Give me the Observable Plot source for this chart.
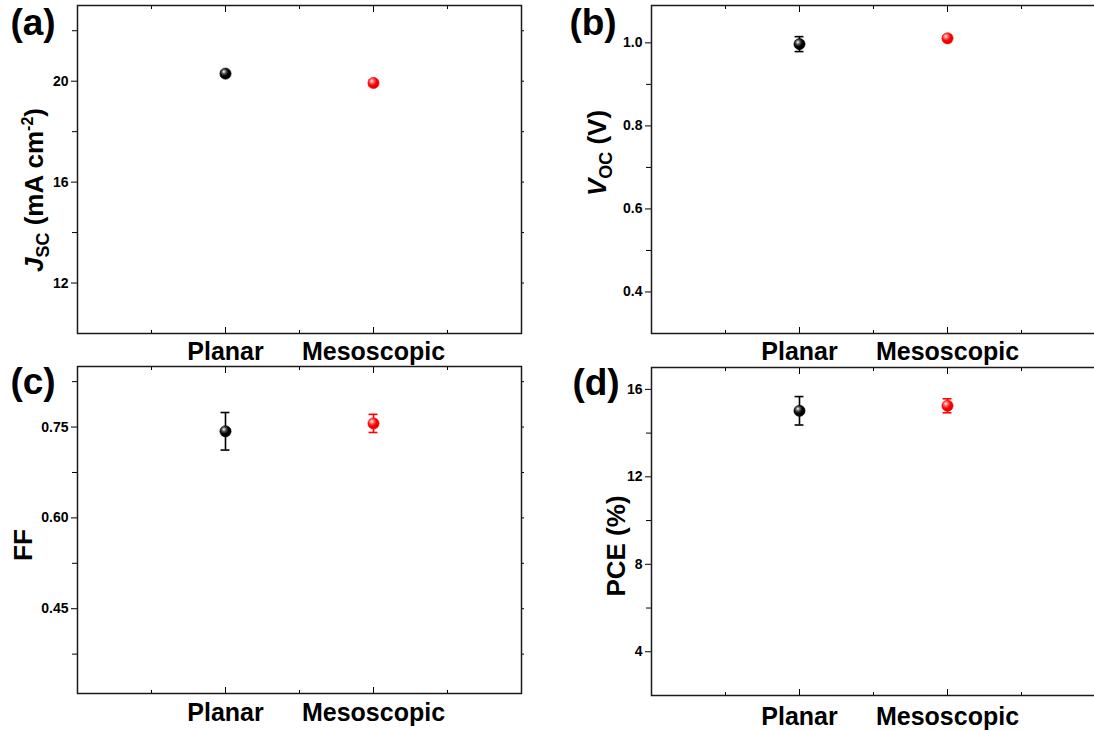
<!DOCTYPE html>
<html><head><meta charset="utf-8">
<script src="https://cdn.jsdelivr.net/npm/d3@7"></script>
<script src="https://cdn.jsdelivr.net/npm/@observablehq/plot@0.6"></script>
<style>
html,body{margin:0;padding:0;background:#fff;overflow:hidden;}
#chart{position:relative;width:1094px;height:731px;overflow:hidden;background:#fff;}
#chart svg{position:absolute;overflow:visible;}
</style></head><body><div id="chart"></div>
<script>
// ---- data ----
const categories = ["Planar", "Mesoscopic"];
const categoryPos = [1, 2];
const minorXTicks = [0.5, 1.5, 2.5];
const seriesColors = ["#000000", "#ff0000"];

const jscMean = [20.30, 19.93];
const jscErr  = [0.10, 0.12];
const vocMean = [0.997, 1.011];
const vocErr  = [0.018, 0.006];
const ffMean  = [0.743, 0.756];
const ffErr   = [0.031, 0.015];
const pceMean = [15.02, 15.25];
const pceErr  = [0.65, 0.32];

const jscTicks = [12, 16, 20];      const jscMinor = [14, 18, 22];
const vocTicks = [0.4, 0.6, 0.8, 1.0]; const vocMinor = [0.5, 0.7, 0.9];
const ffTicks  = [0.45, 0.60, 0.75];   const ffMinor  = [0.375, 0.525, 0.675, 0.825];
const pceTicks = [4, 8, 12, 16];       const pceMinor = [6, 10, 14];

// ---- gradients for glossy dots ----
const FONT = "'Liberation Sans', Arial, Helvetica, sans-serif";
const chart = d3.select("#chart");
const gsvg = chart.append("svg").attr("width", 0).attr("height", 0).style("left", "0px").style("top", "0px");
const defs = gsvg.append("defs");
const gradIds = seriesColors.map((c, i) => {
  const id = "gloss" + i;
  const g = defs.append("radialGradient").attr("id", id).attr("cx", "38%").attr("cy", "35%").attr("r", "65%").attr("fx", "35%").attr("fy", "32%");
  g.append("stop").attr("offset", "0%").attr("stop-color", "#ffffff");
  g.append("stop").attr("offset", "30%").attr("stop-color", i === 0 ? "#555" : "#ff6060");
  g.append("stop").attr("offset", "60%").attr("stop-color", c);
  g.append("stop").attr("offset", "100%").attr("stop-color", i === 0 ? "#000" : "#e00000");
  return "url(#" + id + ")";
});

const panels = [
  {mean: jscMean, err: jscErr, domain: [10, 23], major: jscTicks, minor: jscMinor, fmt: d => d.toFixed(0),
   left: 0, top: 0, width: 547, height: 365, margin: [5, 26, 32, 77], catPad: 9,
   letter: "(a)", letterX: 33, letterY: 35,
   label: [["J", "i"], ["SC", "sub"], [" (mA cm", ""], ["-2", "sup"], [")", ""]], labelX: 43, labelY: 190},
  {mean: vocMean, err: vocErr, domain: [0.3, 1.09], major: vocTicks, minor: vocMinor, fmt: d => d.toFixed(1),
   left: 547, top: 0, width: 548, height: 365, margin: [5, 0, 32, 104], catPad: 9,
   letter: "(b)", letterX: 46, letterY: 35,
   label: [["V", "i"], ["OC", "sub"], [" (V)", ""]], labelX: 59, labelY: 153},
  {mean: ffMean, err: ffErr, domain: [0.31, 0.85], major: ffTicks, minor: ffMinor, fmt: d => d.toFixed(2),
   left: 0, top: 365, width: 547, height: 366, margin: [1, 26, 38, 77], catPad: 10,
   letter: "(c)", letterX: 33, letterY: 29,
   label: [["FF", ""]], labelX: 32, labelY: 180},
  {mean: pceMean, err: pceErr, domain: [2, 17], major: pceTicks, minor: pceMinor, fmt: d => d.toFixed(0),
   left: 547, top: 365, width: 548, height: 366, margin: [2, 0, 36, 104], catPad: 12,
   letter: "(d)", letterX: 49, letterY: 30,
   label: [["PCE (%)", ""]], labelX: 78, labelY: 181}
];

for (const p of panels) {
  const rows = categories.map((c, i) => ({cat: c, x: categoryPos[i], y: p.mean[i], lo: p.mean[i] - p.err[i], hi: p.mean[i] + p.err[i], color: seriesColors[i], grad: gradIds[i]}));
  const [mt, mr, mb, ml] = p.margin;
  const marks = [
    Plot.axisY({ticks: p.major, tickSize: 6, tickPadding: 3, tickFormat: p.fmt, fontSize: 14, fontWeight: "bold", label: null}),
    Plot.axisY({ticks: p.minor, tickSize: 5, tickFormat: () => "", label: null}),
    Plot.axisY({anchor: "right", ticks: p.major.concat(p.minor), tickSize: 2, tickFormat: () => "", label: null}),
    Plot.axisX({anchor: "bottom", ticks: categoryPos, tickSize: -6, tickFormat: () => "", label: null}),
    Plot.axisX({anchor: "bottom", ticks: minorXTicks, tickSize: -3, tickFormat: () => "", label: null}),
    Plot.axisX({anchor: "top", ticks: categoryPos, tickSize: -6, tickFormat: () => "", label: null}),
    Plot.axisX({anchor: "top", ticks: minorXTicks, tickSize: -3, tickFormat: () => "", label: null}),
    Plot.axisX({anchor: "bottom", ticks: categoryPos, tickSize: 0, tickPadding: p.catPad, tickFormat: (d, i) => categories[categoryPos.indexOf(d)], fontSize: 25, fontWeight: "bold", label: null}),
    Plot.frame({stroke: "#1a1a1a", strokeWidth: 1.5}),
    Plot.ruleX(rows, {x: "x", y1: "lo", y2: "hi", stroke: "color", strokeWidth: 1.6}),
    Plot.ruleY(rows, {y: "hi", x1: d => d.x - 0.03, x2: d => d.x + 0.03, stroke: "color", strokeWidth: 1.6}),
    Plot.ruleY(rows, {y: "lo", x1: d => d.x - 0.03, x2: d => d.x + 0.03, stroke: "color", strokeWidth: 1.6}),
    ...rows.map(r => Plot.dot([r], {x: "x", y: "y", r: 5.6, fill: r.grad, stroke: r.color, strokeWidth: 0.6}))
  ];
  const svgEl = Plot.plot({
    width: p.width, height: p.height,
    marginTop: mt, marginRight: mr, marginBottom: mb, marginLeft: ml,
    x: {domain: [0, 3]},
    y: {domain: p.domain},
    style: {fontFamily: FONT, fontSize: "14px", fontWeight: "bold", color: "#000", background: "transparent", overflow: "visible"},
    marks
  });
  svgEl.style.left = p.left + "px";
  svgEl.style.top = p.top + "px";
  chart.node().appendChild(svgEl);
  const svg = d3.select(svgEl);
  // panel letter
  svg.append("text").attr("x", p.letterX).attr("y", p.letterY).attr("text-anchor", "middle")
    .attr("font-family", FONT).attr("font-weight", "bold").attr("font-size", 37).attr("fill", "#000").text(p.letter);
  // y axis label with sub/superscripts
  const t = svg.append("text").attr("transform", `translate(${p.labelX},${p.labelY}) rotate(-90)`)
    .attr("text-anchor", "middle").attr("font-family", FONT).attr("font-weight", "bold").attr("font-size", 26).attr("fill", "#000");
  let shift = 0;
  for (const [s, kind] of p.label) {
    const ts = t.append("tspan").text(s);
    let target = 0;
    if (kind === "sub") { target = 6; ts.attr("font-size", 18); }
    else if (kind === "sup") { target = -10; ts.attr("font-size", 16); }
    else if (kind === "i") { ts.attr("font-style", "italic"); }
    if (target !== shift) { ts.attr("dy", target - shift); shift = target; }
  }
}
</script></body></html>
